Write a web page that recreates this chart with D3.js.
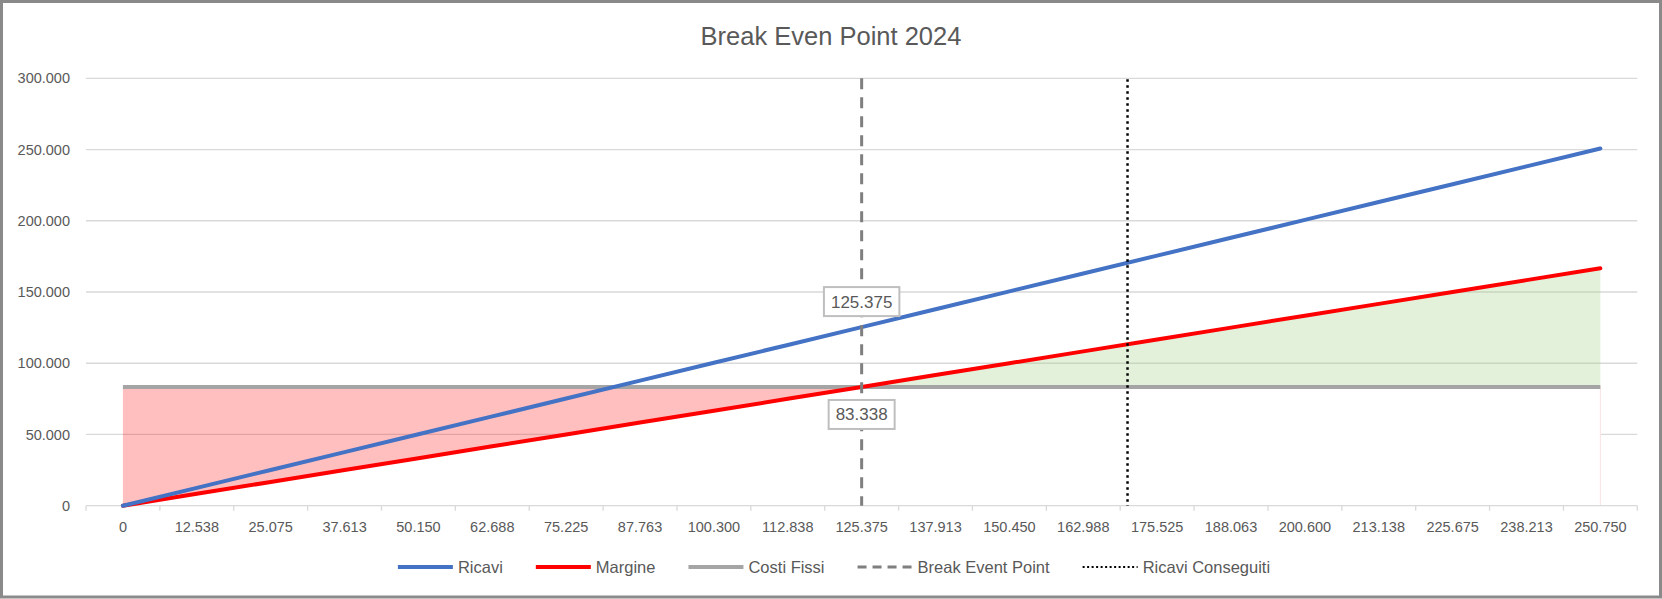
<!DOCTYPE html>
<html>
<head>
<meta charset="utf-8">
<script src="https://cdn.jsdelivr.net/npm/d3@7"></script>
<style>
    html, body { margin: 0; padding: 0; background: #fff; }
    svg text { font-family: "Liberation Sans", Arial, sans-serif; fill: #595959; }
</style>
</head>
<body>
<svg id="chart" width="1662" height="599"></svg>
<script>
// categories shown on the x axis (ricavi levels)
var categories = ["0", "12.538", "25.075", "37.613", "50.150", "62.688", "75.225", "87.763", "100.300", "112.838",
    "125.375", "137.913", "150.450", "162.988", "175.525", "188.063", "200.600", "213.138", "225.675", "238.213", "250.750"];
var ricavi = [0, 12537.5, 25075, 37612.5, 50150, 62687.5, 75225, 87762.5, 100300, 112837.5,
    125375, 137912.5, 150450, 162987.5, 175525, 188062.5, 200600, 213137.5, 225675, 238212.5, 250750];
var margine = [0, 8334, 16668, 25001, 33335, 41669, 50003, 58337, 66670, 75004,
    83338, 91672, 100006, 108339, 116673, 125007, 133341, 141675, 150008, 158342, 166676];
var costiFissi = [83338, 83338, 83338, 83338, 83338, 83338, 83338, 83338, 83338, 83338,
    83338, 83338, 83338, 83338, 83338, 83338, 83338, 83338, 83338, 83338, 83338];
var breakEvenPoint = 125375;
var ricaviConseguiti = 170500;
var yTicks = [0, 50000, 100000, 150000, 200000, 250000, 300000];
var seriesNames = ["Ricavi", "Margine", "Costi Fissi", "Break Event Point", "Ricavi Conseguiti"];

var W = 1662, H = 599;
var plot = {left: 86, right: 1637.3, top: 78.3, bottom: 505.7};

var svg = d3.select("#chart");
var it = d3.formatLocale({decimal: ",", thousands: ".", grouping: [3], currency: ["", " €"]});
var fmt = it.format(",.0f");

var x = d3.scaleBand().domain(categories).range([plot.left, plot.right]).padding(0);
var cx = function(d, i) { return x(categories[i]) + x.bandwidth() / 2; };
var xv = d3.scaleLinear().domain([ricavi[0], ricavi[ricavi.length - 1]])
    .range([cx(null, 0), cx(null, ricavi.length - 1)]);
var y = d3.scaleLinear().domain([0, 300000]).range([plot.bottom, plot.top]);

// chart frame
svg.append("rect").attr("x", 1.5).attr("y", 1.5).attr("width", W - 3).attr("height", H - 3.5)
    .attr("fill", "#fff").attr("stroke", "#8a8a8a").attr("stroke-width", 3);

// title
svg.append("text").attr("x", W / 2).attr("y", 45).attr("text-anchor", "middle")
    .style("font-size", "25.5px").text("Break Even Point 2024");

// gridlines
svg.append("g").selectAll("line").data(yTicks.slice(1)).enter().append("line")
    .attr("x1", plot.left).attr("x2", plot.right)
    .attr("y1", function(d) { return y(d); }).attr("y2", function(d) { return y(d); })
    .attr("stroke", "#d9d9d9").attr("stroke-width", 1.3);

// white base area (hides gridlines under the lower series)
var idx = d3.range(categories.length);
svg.append("path").datum(idx)
    .attr("fill", "#fff")
    .attr("d", d3.area()
        .x(function(i) { return cx(null, i); })
        .y0(y(0))
        .y1(function(i) { return y(Math.min(margine[i], costiFissi[i])); }));

var band = d3.area()
    .x(function(i) { return cx(null, i); })
    .y0(function(i) { return y(margine[i]); })
    .y1(function(i) { return y(costiFissi[i]); });
var bepIndex = ricavi.indexOf(breakEvenPoint);

// loss / profit areas
svg.append("path").datum(idx.slice(0, bepIndex + 1))
    .attr("fill", "#ff0000").attr("fill-opacity", 0.25).attr("d", band);
svg.append("path").datum(idx.slice(bepIndex))
    .attr("fill", "#a9d18e").attr("fill-opacity", 0.33).attr("d", band);
svg.append("line")
    .attr("x1", cx(null, 20)).attr("x2", cx(null, 20))
    .attr("y1", y(costiFissi[20])).attr("y2", y(0))
    .attr("stroke", "#fbe3e3").attr("stroke-width", 1);

// x axis
var xAxis = svg.append("g").attr("transform", "translate(0," + plot.bottom + ")")
    .call(d3.axisBottom(x).tickSize(0).tickPadding(16));
xAxis.select(".domain").remove();
xAxis.selectAll("text").style("font-size", "14.5px").attr("fill", "#595959");
svg.append("line").attr("x1", plot.left).attr("x2", plot.right)
    .attr("y1", plot.bottom).attr("y2", plot.bottom)
    .attr("stroke", "#d9d9d9").attr("stroke-width", 1.3);
svg.append("g").selectAll("line").data(d3.range(categories.length + 1)).enter().append("line")
    .attr("x1", function(k) { return plot.left + k * x.bandwidth(); })
    .attr("x2", function(k) { return plot.left + k * x.bandwidth(); })
    .attr("y1", plot.bottom).attr("y2", plot.bottom + 5)
    .attr("stroke", "#d9d9d9").attr("stroke-width", 1.3);

// y axis
var yAxis = svg.append("g").attr("transform", "translate(" + plot.left + ",0)")
    .call(d3.axisLeft(y).tickValues(yTicks).tickFormat(fmt).tickSize(0).tickPadding(16));
yAxis.select(".domain").remove();
yAxis.selectAll("text").style("font-size", "14.5px").attr("fill", "#595959");

// series lines
var line = function(values) {
    return d3.line().x(function(d, i) { return cx(d, i); }).y(function(d) { return y(d); })(values);
};
svg.append("path").attr("d", line(costiFissi)).attr("fill", "none")
    .attr("stroke", "#a5a5a5").attr("stroke-width", 4);
svg.append("path").attr("d", line(margine)).attr("fill", "none")
    .attr("stroke", "#ff0000").attr("stroke-width", 4).attr("stroke-linecap", "round");
svg.append("path").attr("d", line(ricavi)).attr("fill", "none")
    .attr("stroke", "#4472c4").attr("stroke-width", 4).attr("stroke-linecap", "round");

// vertical markers
svg.append("line")
    .attr("x1", xv(breakEvenPoint)).attr("x2", xv(breakEvenPoint))
    .attr("y1", y(300000)).attr("y2", y(0))
    .attr("stroke", "#7f7f7f").attr("stroke-width", 3).attr("stroke-dasharray", "11,8");
svg.append("line")
    .attr("x1", xv(ricaviConseguiti)).attr("x2", xv(ricaviConseguiti))
    .attr("y1", y(300000) + 1).attr("y2", y(0))
    .attr("stroke", "#000").attr("stroke-width", 2.5).attr("stroke-dasharray", "2.5,3.5");

// data labels at break even
var _dataLabel = function(value, xc, edge, above) {
    var g = svg.append("g");
    var t = g.append("text").attr("x", xc).attr("text-anchor", "middle")
        .style("font-size", "17px").text(fmt(value));
    var w = t.node().getComputedTextLength() + 14, h = 29;
    var top = above ? edge - h : edge;
    g.insert("rect", "text").attr("x", xc - w / 2).attr("y", top).attr("width", w).attr("height", h)
        .attr("fill", "#fff").attr("stroke", "#bfbfbf").attr("stroke-width", 2);
    t.attr("y", top + h / 2 + 6);
};
_dataLabel(breakEvenPoint, xv(breakEvenPoint), y(breakEvenPoint) - 11, true);
_dataLabel(costiFissi[bepIndex], xv(breakEvenPoint), y(costiFissi[bepIndex]) + 13, false);

// legend
var legendStyles = [
    {stroke: "#4472c4", width: 4, dash: null},
    {stroke: "#ff0000", width: 4, dash: null},
    {stroke: "#a5a5a5", width: 4, dash: null},
    {stroke: "#7f7f7f", width: 3, dash: "9,6"},
    {stroke: "#000", width: 2, dash: "2,2.5"}
];
var legend = svg.append("g");
var ly = 567, symLen = 55, pos = 0;
seriesNames.forEach(function(name, i) {
    var s = legendStyles[i];
    var item = legend.append("g").attr("transform", "translate(" + pos + ",0)");
    item.append("line").attr("x1", 0).attr("x2", symLen).attr("y1", ly).attr("y2", ly)
        .attr("stroke", s.stroke).attr("stroke-width", s.width).attr("stroke-dasharray", s.dash);
    var t = item.append("text").attr("x", symLen + 5).attr("y", ly + 5.5)
        .style("font-size", "16.5px").text(name);
    pos += symLen + 5 + t.node().getComputedTextLength() + 33;
});
pos -= 33;
legend.attr("transform", "translate(" + (834 - pos / 2) + ",0)");
</script>
</body>
</html>
